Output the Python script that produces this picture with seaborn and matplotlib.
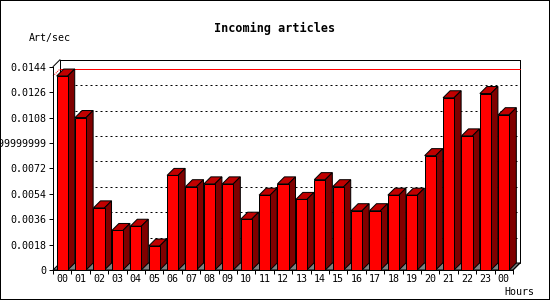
import matplotlib
matplotlib.use("Agg")
import matplotlib.pyplot as plt
import seaborn as sns
import pandas as pd
from matplotlib.patches import Polygon, Rectangle
from matplotlib.lines import Line2D
from matplotlib.transforms import IdentityTransform

# ---------------- data ----------------
hours = ["00", "01", "02", "03", "04", "05", "06", "07", "08", "09", "10", "11",
         "12", "13", "14", "15", "16", "17", "18", "19", "20", "21", "22", "23", "00"]
art_per_sec = [0.01374, 0.0108, 0.0044, 0.0028, 0.0031, 0.0017, 0.0067, 0.0059,
               0.0061, 0.0061, 0.0036, 0.0053, 0.0061, 0.0050, 0.0064, 0.0059,
               0.0042, 0.0042, 0.0053, 0.0053, 0.0081, 0.0122, 0.0095, 0.0125, 0.0110]
ytick_values = [0, 0.0018, 0.0036, 0.0054, 0.0072, 0.009, 0.0108, 0.0126, 0.0144]
ytick_labels = ["0", "0.0018", "0.0036", "0.0054", "0.0072", "0.0089999999999999",
                "0.0108", "0.0126", "0.0144"]
title = "Incoming articles"
ylabel = "Art/sec"
xlabel = "Hours"

# ---------------- style ----------------
sns.set_theme(style="white")
plt.rcParams["font.family"] = ["DejaVu Sans Mono", "DejaVu Sans"]

W, H, DPI = 550, 300, 100
DEPTH = 7  # pixels of 3D offset
PX = 0.72  # one pixel in points
FRONT = "#ff0000"
TOP = "#c00000"
SIDE = "#800000"
FLOOR = "#808080"

fig = plt.figure(figsize=(W / DPI, H / DPI), dpi=DPI, facecolor="white")
ax = fig.add_axes([53 / W, 30 / H, 460 / W, 203.3 / H])
ax.set_facecolor("none")

df = pd.DataFrame({"slot": list(range(len(hours))), "value": art_per_sec})
sns.barplot(data=df, x="slot", y="value", color=FRONT, saturation=1, width=0.6,
            edgecolor="black", linewidth=PX, ax=ax, zorder=5)

n = len(hours)
ax.set_xlim(-0.5, n - 0.5)
ax.set_ylim(0, ytick_values[-1])
ax.set_autoscale_on(False)

def disp(x, y, back=False):
    px, py = ax.transData.transform((x, y))
    if back:
        px += DEPTH
        py += DEPTH
    return (px, py)

def add_poly(pts, fc, ec="black", lw=PX, z=5):
    ax.add_patch(Polygon(pts, closed=True, transform=IdentityTransform(),
                         facecolor=fc, edgecolor=ec, linewidth=lw,
                         zorder=z, clip_on=False))

def add_line(p1, p2, color="black", ls="-", z=2, lw=PX):
    ax.add_line(Line2D([p1[0], p2[0]], [p1[1], p2[1]], transform=IdentityTransform(),
                       color=color, linestyle=ls, linewidth=lw, zorder=z,
                       clip_on=False))

xl, xr = -0.5, n - 0.5
ytop = ytick_values[-1]

# floor
add_poly([disp(xl, 0), disp(xr, 0), disp(xr, 0, True), disp(xl, 0, True)],
         FLOOR, ec="black", lw=PX, z=1)

# back wall grid
for v in ytick_values[1:-1]:
    add_line(disp(xl, v, True), disp(xr, v, True), ls=(0, (2, 3)), z=1)
# back wall frame
add_line(disp(xl, ytop, True), disp(xr, ytop, True), z=1)
add_line(disp(xl, 0, True), disp(xl, ytop, True), z=1)
add_line(disp(xr, 0, True), disp(xr, ytop, True), z=1)
add_line(disp(xl, ytop), disp(xl, ytop, True), z=1)
add_line(disp(xr, 0), disp(xr, 0, True), z=1)

# max line
vmax = max(art_per_sec)
add_line(disp(xl, vmax, True), disp(xr, vmax, True), color="#ff0000", z=2)
add_line(disp(xl, vmax), disp(xl, vmax, True), color="#ff0000", ls=(0, (1, 1)), z=2)

# 3D faces of bars
for p in list(ax.patches):
    if isinstance(p, Polygon):
        continue
    x0, w, h = p.get_x(), p.get_width(), p.get_height()
    x1 = x0 + w
    add_poly([disp(x0, h), disp(x1, h), disp(x1, h, True), disp(x0, h, True)], TOP, z=4)
    add_poly([disp(x1, 0), disp(x1, 0, True), disp(x1, h, True), disp(x1, h)], SIDE, z=4)

# axes, ticks
for s in ["top", "right"]:
    ax.spines[s].set_visible(False)
for s in ["left", "bottom"]:
    ax.spines[s].set_color("black")
    ax.spines[s].set_linewidth(PX)
    ax.spines[s].set_zorder(6)

ax.set_yticks(ytick_values)
ax.set_yticklabels(ytick_labels)
ax.set_xticks(range(n))
ax.set_xticklabels(hours)
ax.set_xticks([i - 0.5 for i in range(n + 1)], minor=True)
ax.tick_params(axis="y", which="major", left=True, length=3, width=PX, color="black",
               labelsize=7.2, pad=1.5, labelcolor="black")
ax.tick_params(axis="x", which="major", bottom=False, length=0, labelsize=7.2,
               pad=3, labelcolor="black")
ax.tick_params(axis="x", which="minor", bottom=True, length=3, width=PX, color="black")
ax.set_xlabel("")
ax.set_ylabel("")
ax.grid(False)

# texts
fig.text(0.5, 1 - 28 / H, title, ha="center", va="center", fontsize=8.5,
         fontweight="bold", color="black")
fig.text(29 / W, 1 - 38.5 / H, ylabel, ha="left", va="center", fontsize=7.2, color="black")
fig.text(534 / W, 1 - 292 / H, xlabel, ha="right", va="center", fontsize=7.2, color="black")

# outer border
fig.add_artist(Rectangle((0, 0), 1, 1, transform=fig.transFigure, fill=False,
                         edgecolor="black", linewidth=2 * PX))

fig.savefig("out.png", dpi=DPI, facecolor="white")
